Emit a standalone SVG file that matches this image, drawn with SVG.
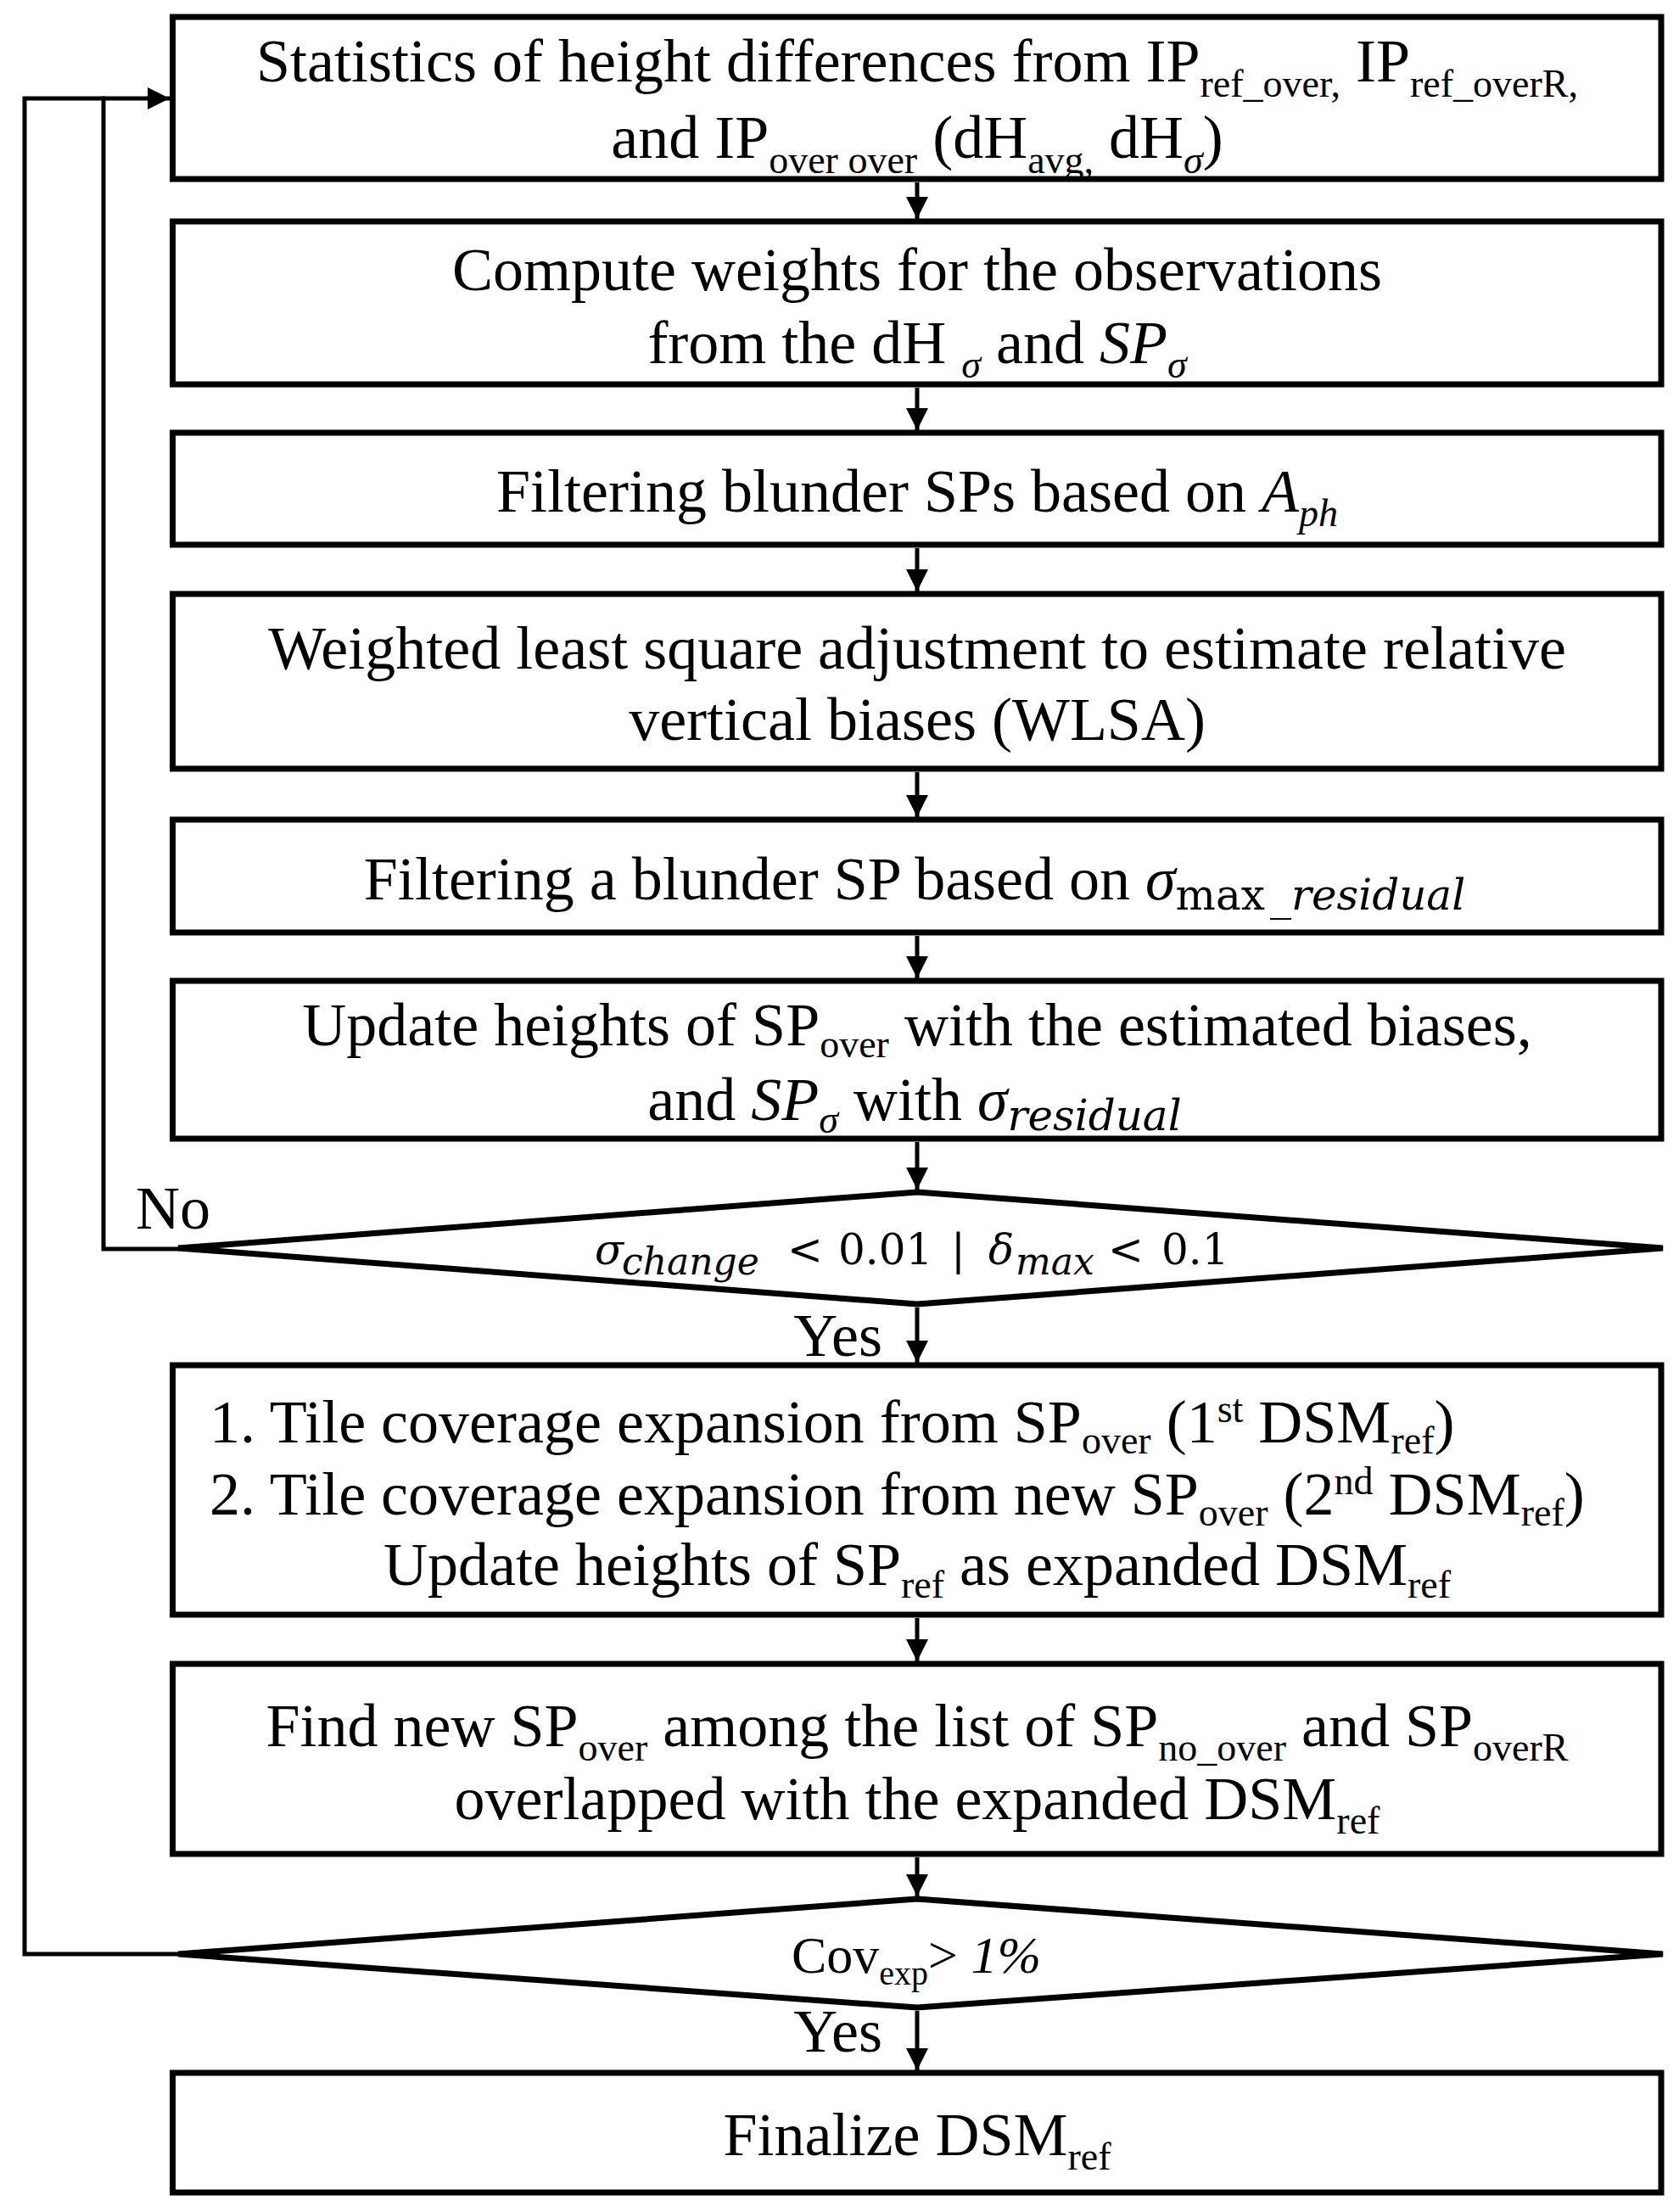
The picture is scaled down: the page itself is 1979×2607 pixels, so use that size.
<svg xmlns="http://www.w3.org/2000/svg" width="1979" height="2607" viewBox="0 0 1979 2607">
<style>
.box{fill:#fff;stroke:#000;stroke-width:7}
.dia{fill:#fff;stroke:#000;stroke-width:7}
.conn{fill:none;stroke:#000;stroke-width:5;stroke-linejoin:miter;stroke-linecap:butt}
.t{font-family:"Liberation Serif","Times New Roman",serif;font-size:72px;fill:#000}
.s{font-size:46px}
.i{font-style:italic}
.m{font-family:"DejaVu Serif",serif;font-size:50px}
.ms{font-family:"DejaVu Serif",serif;font-size:44px}
</style>
<defs>
<marker id="ah" markerUnits="userSpaceOnUse" markerWidth="26" markerHeight="26" refX="26" refY="13" orient="auto">
<path d="M0,0 L26,13 L0,26 z" fill="#000"/>
</marker>
</defs>
<rect width="1979" height="2607" fill="#fff"/>

<g id="connectors">
<path class="conn" d="M1081 215 V258" marker-end="url(#ah)"/>
<path class="conn" d="M1081 457 V507" marker-end="url(#ah)"/>
<path class="conn" d="M1081 646 V697" marker-end="url(#ah)"/>
<path class="conn" d="M1081 910 V963" marker-end="url(#ah)"/>
<path class="conn" d="M1081 1103 V1153" marker-end="url(#ah)"/>
<path class="conn" d="M1081 1346 V1402" marker-end="url(#ah)"/>
<path class="conn" d="M1081 1541 V1606" marker-end="url(#ah)"/>
<path class="conn" d="M1081 1907 V1958" marker-end="url(#ah)"/>
<path class="conn" d="M1081 2189 V2235" marker-end="url(#ah)"/>
<path class="conn" d="M1081 2370 V2440" marker-end="url(#ah)"/>
<path class="conn" d="M212 1472 H122 V116 H200" marker-end="url(#ah)"/>
<path class="conn" d="M212 2303 H29 V116 H124"/>
<text class="t" x="160" y="1448">No</text>
<text class="t" x="1040" y="1598" text-anchor="end">Yes</text>
<text class="t" x="1040" y="2418" text-anchor="end">Yes</text>
</g>

<g id="n1">
<rect class="box" x="203.5" y="20" width="1754.5" height="191"/>
<text class="t" x="1081" y="96" text-anchor="middle">Statistics of height differences from IP<tspan class="s" dy="18">ref_over,</tspan><tspan dy="-18"> IP</tspan><tspan class="s" dy="18">ref_overR,</tspan></text>
<text class="t" x="1081" y="186" text-anchor="middle">and IP<tspan class="s" dy="18">over over</tspan><tspan dy="-18"> (dH</tspan><tspan class="s" dy="18">avg,</tspan><tspan dy="-18"> dH</tspan><tspan class="s i" dy="18">σ</tspan><tspan dy="-18">)</tspan></text>
</g>

<g id="n2">
<rect class="box" x="203.5" y="261" width="1754.5" height="192"/>
<text class="t" x="1081" y="342" text-anchor="middle">Compute weights for the observations</text>
<text class="t" x="1081" y="428" text-anchor="middle">from the dH <tspan class="s i" dy="17">σ</tspan><tspan dy="-17"> and </tspan><tspan class="i">SP</tspan><tspan class="s i" dy="17">σ</tspan></text>
</g>

<g id="n3">
<rect class="box" x="203.5" y="510" width="1754.5" height="132"/>
<text class="t" x="1081" y="603" text-anchor="middle">Filtering blunder SPs based on <tspan class="i">A</tspan><tspan class="s i" dy="17">ph</tspan></text>
</g>

<g id="n4">
<rect class="box" x="203.5" y="700" width="1754.5" height="206"/>
<text class="t" x="1081" y="788" text-anchor="middle">Weighted least square adjustment to estimate relative</text>
<text class="t" x="1081" y="872" text-anchor="middle">vertical biases (WLSA)</text>
</g>

<g id="n5">
<rect class="box" x="203.5" y="966" width="1754.5" height="133"/>
<text class="t" x="1078" y="1060" text-anchor="middle">Filtering a blunder SP based on <tspan class="i">σ</tspan><tspan class="m" dy="12">max</tspan><tspan class="m i" dx="6">_residual</tspan></text>
</g>

<g id="n6">
<rect class="box" x="203.5" y="1156" width="1754.5" height="186"/>
<text class="t" x="1081" y="1232" text-anchor="middle">Update heights of SP<tspan class="s" dy="14">over</tspan><tspan dy="-14"> with the estimated biases,</tspan></text>
<text class="t" x="1078" y="1320" text-anchor="middle">and <tspan class="i">SP</tspan><tspan class="s i" dy="15">σ</tspan><tspan dy="-15"> with </tspan><tspan class="i">σ</tspan><tspan class="m i" dy="12">residual</tspan></text>
</g>

<g id="d1">
<polygon class="dia" points="1081,1405 1960,1471 1081,1537 210,1471"/>
<text class="t" y="1490"><tspan class="m i" x="701">σ</tspan><tspan class="ms i" x="733" y="1502">change</tspan><tspan class="m" x="928" y="1490">&lt;</tspan><tspan class="m" x="988">0.01</tspan><tspan class="m" x="1121">|</tspan><tspan class="m i" x="1165">δ</tspan><tspan class="ms i" x="1197" y="1502">max</tspan><tspan class="m" x="1306" y="1490">&lt;</tspan><tspan class="m" x="1369">0.1</tspan></text>
</g>

<g id="n7">
<rect class="box" x="203.5" y="1609" width="1754.5" height="294"/>
<text class="t" x="247" y="1700">1. Tile coverage expansion from SP<tspan class="s" dy="13">over</tspan><tspan dy="-13"> (1</tspan><tspan class="s" dy="-24">st</tspan><tspan dy="24"> DSM</tspan><tspan class="s" dy="13">ref</tspan><tspan dy="-13">)</tspan></text>
<text class="t" x="247" y="1785">2. Tile coverage expansion from new SP<tspan class="s" dy="13">over</tspan><tspan dy="-13"> (2</tspan><tspan class="s" dy="-24">nd</tspan><tspan dy="24"> DSM</tspan><tspan class="s" dy="13">ref</tspan><tspan dy="-13">)</tspan></text>
<text class="t" x="1081" y="1868" text-anchor="middle">Update heights of SP<tspan class="s" dy="15">ref</tspan><tspan dy="-15"> as expanded DSM</tspan><tspan class="s" dy="15">ref</tspan></text>
</g>

<g id="n8">
<rect class="box" x="203.5" y="1961" width="1754.5" height="224"/>
<text class="t" x="1081" y="2058" text-anchor="middle">Find new SP<tspan class="s" dy="17">over</tspan><tspan dy="-17"> among the list of SP</tspan><tspan class="s" dy="17">no_over</tspan><tspan dy="-17"> and SP</tspan><tspan class="s" dy="17">overR</tspan></text>
<text class="t" x="1081" y="2144" text-anchor="middle">overlapped with the expanded DSM<tspan class="s" dy="17">ref</tspan></text>
</g>

<g id="d2">
<polygon class="dia" points="1081,2238 1960,2303 1081,2366 210,2303"/>
<text class="t" x="1080" y="2325" text-anchor="middle" style="font-size:62px">Cov<tspan style="font-size:40px" dy="14">exp</tspan><tspan dy="-14">&gt; </tspan><tspan class="i">1%</tspan></text>
</g>

<g id="n9">
<rect class="box" x="203.5" y="2443" width="1754.5" height="141"/>
<text class="t" x="1081" y="2540" text-anchor="middle">Finalize DSM<tspan class="s" dy="17">ref</tspan></text>
</g>
</svg>
